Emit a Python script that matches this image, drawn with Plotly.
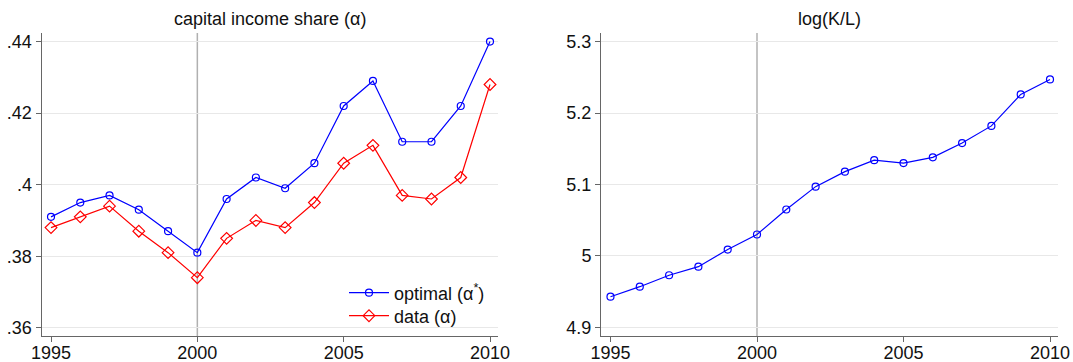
import plotly.graph_objects as go

years = list(range(1995, 2011))
optimal_alpha = [.391, .395, .397, .393, .387, .381, .396, .402, .399, .406, .422, .429, .412, .412, .422, .440]
data_alpha = [.388, .391, .394, .387, .381, .374, .385, .390, .388, .395, .406, .411, .397, .396, .402, .428]
log_kl = [4.943, 4.957, 4.973, 4.985, 5.009, 5.030, 5.065, 5.097, 5.118, 5.134, 5.130, 5.138, 5.158, 5.182, 5.226, 5.247]

x_ticks = [1995, 2000, 2005, 2010]
y1_ticks = [.36, .38, .40, .42, .44]
y1_labels = [".36", ".38", ".4", ".42", ".44"]
y2_ticks = [4.9, 5.0, 5.1, 5.2, 5.3]
y2_labels = ["4.9", "5", "5.1", "5.2", "5.3"]

FONT = "Liberation Sans, Arial, sans-serif"
W, H = 1073, 362
L1, R1 = 41.5, 498
L2, R2 = 601, 1058

fig = go.Figure()
fig.add_trace(go.Scatter(x=years, y=optimal_alpha, mode="lines+markers", name="optimal (α<sup>*</sup>)",
                         line=dict(color="#0000ff", width=1.2),
                         marker=dict(symbol="circle-open", size=7, color="#0000ff", line=dict(width=1.2)),
                         xaxis="x", yaxis="y", legend="legend"))
fig.add_trace(go.Scatter(x=years, y=data_alpha, mode="lines+markers", name="data (α)",
                         line=dict(color="#ff0000", width=1.2),
                         marker=dict(symbol="diamond-open", size=9, color="#ff0000", line=dict(width=1.2)),
                         xaxis="x", yaxis="y", legend="legend2"))
fig.add_trace(go.Scatter(x=years, y=log_kl, mode="lines+markers", showlegend=False,
                         line=dict(color="#0000ff", width=1.2),
                         marker=dict(symbol="circle-open", size=7, color="#0000ff", line=dict(width=1.2)),
                         xaxis="x2", yaxis="y2"))

ydom = [1 - 336 / H, 1 - 33 / H]
common_x = dict(tickvals=x_ticks, ticks="outside", ticklen=5, tickcolor="#666", showgrid=False,
                showline=True, linecolor="#666", linewidth=1, zeroline=False, automargin=False,
                ticklabelstandoff=-5,
                tickfont=dict(size=18, color="#111", family=FONT))
common_y = dict(ticks="outside", ticklen=5, tickcolor="#666", showgrid=True, gridcolor="#e8e8e8",
                gridwidth=1, showline=True, linecolor="#666", linewidth=1, zeroline=False, automargin=False,
                tickfont=dict(size=18, color="#111", family=FONT))

leg_common = dict(xanchor="left", yanchor="middle", bgcolor="rgba(0,0,0,0)",
                  font=dict(size=18, family=FONT, color="#111"), itemwidth=40)

fig.update_layout(
    width=W, height=H, margin=dict(l=0, r=0, t=0, b=0, autoexpand=False),
    paper_bgcolor="white", plot_bgcolor="white",
    font=dict(family=FONT, color="#111"),
    xaxis=dict(domain=[L1 / W, R1 / W], range=[1994.675, 2010.273], anchor="y", **common_x),
    yaxis=dict(domain=ydom, range=[.3577, .4424], tickvals=y1_ticks, ticktext=y1_labels, anchor="x", **common_y),
    xaxis2=dict(domain=[L2 / W, R2 / W], range=[1994.676, 2010.273], anchor="y2", **common_x),
    yaxis2=dict(domain=ydom, range=[4.888, 5.312], tickvals=y2_ticks, ticktext=y2_labels, anchor="x2", **common_y),
    legend=dict(x=344 / W, y=1 - 293 / H, **leg_common),
    legend2=dict(x=344 / W, y=1 - 316 / H, **leg_common),
    shapes=[
        dict(type="line", xref="x", yref="y domain", x0=2000, x1=2000, y0=0, y1=1,
             line=dict(color="#b0b0b0", width=1.5), layer="below"),
        dict(type="line", xref="x2", yref="y2 domain", x0=2000, x1=2000, y0=0, y1=1,
             line=dict(color="#b0b0b0", width=1.5), layer="below"),
    ],
    annotations=[
        dict(text="capital income share (α)", x=(L1 + R1) / 2 / W, y=1 - 19 / H, xref="paper", yref="paper",
             showarrow=False, font=dict(size=18, family=FONT, color="#111"), xanchor="center", yanchor="middle"),
        dict(text="log(K/L)", x=(L2 + R2) / 2 / W, y=1 - 19 / H, xref="paper", yref="paper",
             showarrow=False, font=dict(size=18, family=FONT, color="#111"), xanchor="center", yanchor="middle"),
    ],
)

fig.write_html("out.html")
